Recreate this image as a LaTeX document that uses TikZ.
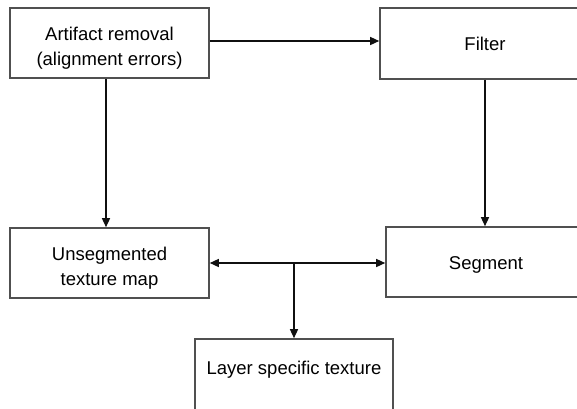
\documentclass[tikz,border=0pt]{standalone}
\usepackage{fontspec}
\setmainfont{Liberation Sans}
\usetikzlibrary{arrows.meta,positioning,calc}
\definecolor{Frame}{HTML}{505050}
\definecolor{Ink}{HTML}{101010}
\newcommand{\lowstrut}{\rule{0pt}{23pt}}
\tikzset{
  >={Triangle[length=9pt,width=8pt]},
  box/.style={rectangle,draw=Frame,line width=1.6pt,fill=white,align=center,
    inner sep=2pt,font=\fontsize{18.5}{25}\selectfont},
  flow/.style={->,line width=1.4pt,draw=Ink},
  both/.style={<->,line width=1.4pt,draw=Ink}
}
\begin{document}
\begin{tikzpicture}[x=1pt,y=-1pt]
        \useasboundingbox (0,0) rectangle (577,408);
        \node[box,minimum width=199pt,minimum height=70pt] (art) at (109.5,43) {\lowstrut Artifact removal\\(alignment errors)};
        \node[box,minimum width=210pt,minimum height=71pt] (filt) at (485,43.5) {Filter};
        \node[box,minimum width=199pt,minimum height=70pt] (unseg) at (109.5,263) {\lowstrut Unsegmented\\texture map};
        \node[box,minimum width=200pt,minimum height=70pt,text height=18pt,text depth=4pt] (seg) at (486,262) {Segment};
        \node[box,minimum width=198pt,minimum height=76pt,text height=13pt,text depth=18pt] (layer) at (294,377) {Layer specific texture};
        \coordinate (split) at (layer.north |- seg.west);
        \draw[flow] (art.east |- 0,41) -- (filt.west |- 0,41);
        \draw[flow] (art.south -| 106,0) -- (unseg.north -| 106,0);
        \draw[flow] (filt.south) -- (seg.north -| filt.south);
        \draw[both] (unseg.east) -- (seg.west |- unseg.east);
        \draw[flow] (split) -- (layer.north);
      \end{tikzpicture}
\end{document}
